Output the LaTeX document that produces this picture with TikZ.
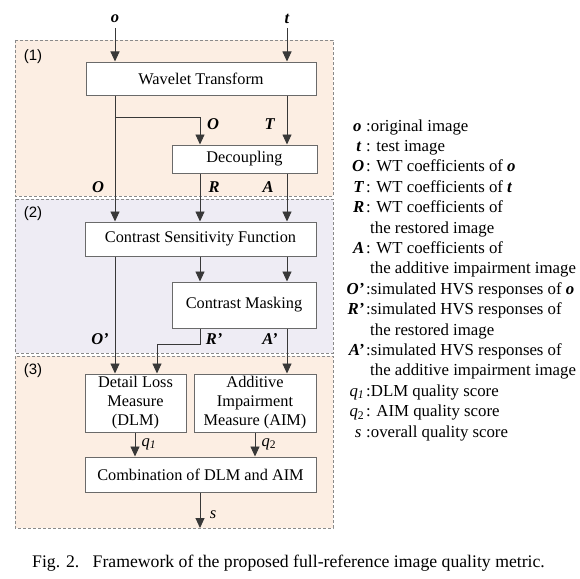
\documentclass[tikz,border=0pt]{standalone}
\usepackage{fontspec}
\setmainfont{Liberation Serif}
\newfontfamily\arialfont{Liberation Sans}
\usetikzlibrary{arrows.meta}
\definecolor{peach}{HTML}{FCEEE3}
\definecolor{lav}{HTML}{EEECF4}
\definecolor{lncol}{HTML}{383838}
\definecolor{bxcol}{HTML}{6A6A6A}
\definecolor{dshcol}{HTML}{8A8A8A}
\newcommand{\bi}[1]{\textbf{\textit{#1}}}
\tikzset{
  region/.style={draw=dshcol, line width=0.9pt, dash pattern=on 3pt off 2pt},
  blk/.style={draw=bxcol, fill=white, line width=1pt, inner sep=0pt, align=center,
    font=\fontsize{16.3}{19}\selectfont},
  conn/.style={draw=lncol, line width=0.9pt, -{Triangle[length=10pt,width=9pt]}},
  lbl/.style={font=\fontsize{16.5}{19}\selectfont, inner sep=0pt},
  reglbl/.style={font=\arialfont\fontsize{15}{18}\selectfont, inner sep=0pt},
  legsym/.style={font=\fontsize{16.8}{19}\selectfont, inner sep=0pt, anchor=base east},
  legtxt/.style={font=\fontsize{16.8}{19}\selectfont, inner sep=0pt, anchor=base west},
}
\begin{document}
\begin{tikzpicture}[x=1pt,y=-1pt]
\useasboundingbox (0,0) rectangle (580,578);
% regions
\fill[peach] (15,40) rectangle (333,196);
\draw[region] (15,40) rectangle (333,196);
\fill[lav] (15,199) rectangle (333,353);
\draw[region] (15,199) rectangle (333,353);
\fill[peach] (15,356) rectangle (333,528);
\draw[region] (15,356) rectangle (333,528);
\node[reglbl] (r1) at (33,57) {(1)};
\node[reglbl] (r2) at (33,214) {(2)};
\node[reglbl] (r3) at (33,371) {(3)};
% blocks
\node[blk, minimum width=230pt, minimum height=33pt] (wt) at (201,78.5) {Wavelet Transform};
\node[blk, minimum width=145pt, minimum height=28pt] (dec) at (244.5,159) {Decoupling};
\node[blk, minimum width=231pt, minimum height=34pt] (csf) at (200.5,239) {Contrast Sensitivity Function};
\node[blk, minimum width=144pt, minimum height=46pt] (cm) at (244,305) {Contrast Masking};
\node[blk, minimum width=101pt, minimum height=58pt] (dlm) at (135.5,403) {Detail Loss\\Measure\\(DLM)};
\node[blk, minimum width=122pt, minimum height=58pt] (aim) at (255,403) {Additive\\Impairment\\Measure (AIM)};
\node[blk, minimum width=231pt, minimum height=35pt] (comb) at (200.5,474.5) {Combination of DLM and AIM};
% inputs
\coordinate (oin) at (115,28);
\coordinate (tin) at (287,28);
\node[lbl] (olab) at (115,19) {\bi{o}};
\node[lbl] (tlab) at (287,19) {\bi{t}};
\draw[conn] (oin) -- (oin |- wt.north);
\draw[conn] (tin) -- (tin |- wt.north);
% WT outputs
\draw[conn] (wt.south -| oin) -- (oin |- csf.north);
\coordinate (br) at (115,117);
\draw[conn] (br) -| (200,0 |- dec.north);
\draw[conn] (wt.south -| tin) -- (tin |- dec.north);
\node[lbl] (lO1) at (213,124) {\bi{O}};
\node[lbl] (lT1) at (270,124) {\bi{T}};
% Decoupling outputs
\coordinate (xr) at (200,0);
\draw[conn] (dec.south -| xr) -- (xr |- csf.north);
\draw[conn] (dec.south -| tin) -- (tin |- csf.north);
\node[lbl] (lO2) at (98,187) {\bi{O}};
\node[lbl] (lR) at (214,187) {\bi{R}};
\node[lbl] (lA) at (268,187) {\bi{A}};
% CSF outputs
\draw[conn] (csf.south -| oin) -- (oin |- dlm.north);
\draw[conn] (csf.south -| xr) -- (xr |- cm.north);
\draw[conn] (csf.south -| tin) -- (tin |- cm.north);
% CM outputs
\coordinate (rk) at (157,344);
\draw[conn] (cm.south -| xr) -- (xr |- rk) -- (rk) -- (rk |- dlm.north);
\draw[conn] (cm.south -| tin) -- (tin |- aim.north);
\node[lbl] (lO3) at (100,339) {\bi{O’}};
\node[lbl] (lR3) at (214,339) {\bi{R’}};
\node[lbl] (lA3) at (270,339) {\bi{A’}};
% measures
\coordinate (xq1) at (135,0);
\coordinate (xq2) at (255,0);
\draw[conn] (dlm.south -| xq1) -- (xq1 |- comb.north);
\draw[conn] (aim.south -| xq2) -- (xq2 |- comb.north);
\node[lbl] (lq1) at (149,444) {\textit{q}\textsubscript{\textit{1}}};
\node[lbl] (lq2) at (269,444) {\textit{q}\textsubscript{2}};
\coordinate (sout) at (200,528);
\draw[conn] (comb.south -| xr) -- (sout);
\node[lbl] (ls) at (213,515) {\textit{s}};
% legend
\foreach \i/\s/\t in {
  0/{\bi{o}\,}/{:original image},
  1/{\bi{t}\,}/{: test image},
  2/{\bi{O}}/{: WT coefficients of \bi{o}},
  3/{\bi{T}}/{: WT coefficients of \bi{t}},
  4/{\bi{R}}/{: WT coefficients of},
  6/{\bi{A}}/{: WT coefficients of},
  8/{\bi{O’}}/{:simulated HVS responses of \bi{o}},
  9/{\bi{R’}}/{:simulated HVS responses of},
  11/{\bi{A’}}/{:simulated HVS responses of},
  13/{\textit{q}\textsubscript{\textit{1}}}/{:DLM quality score},
  14/{\textit{q}\textsubscript{2}}/{: AIM quality score},
  15/{\textit{s}\,}/{:overall quality score}}{
  \node[legsym] (ls\i) at (364.5,131+20.4*\i) {\s};
  \node[legtxt] (lt\i) at (366,131+20.4*\i) {\t};
}
\foreach \i/\t in {5/{the restored image},7/{the additive impairment image},
  10/{the restored image},12/{the additive impairment image}}{
  \node[legtxt] (lc\i) at (370,131+20.4*\i) {\t};
}
% caption
\node[font=\fontsize{17.7}{20}\selectfont, inner sep=0pt, anchor=base west] (cap) at (32,567)
  {Fig. 2.\hspace{0.75em}Framework of the proposed full-reference image quality metric.};
\end{tikzpicture}
\end{document}
